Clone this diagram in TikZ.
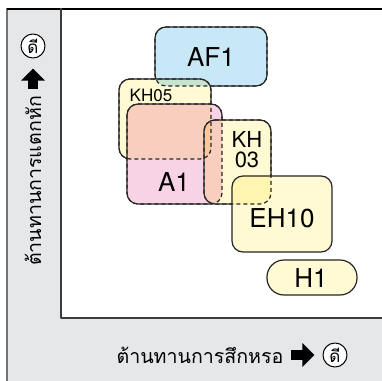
\documentclass[tikz,border=0pt]{standalone}
\usepackage{fontspec}
\setmainfont{TeX Gyre Heros}
\newfontfamily\thaifont[Script=Thai]{Loma}
\usetikzlibrary{arrows.meta}

\definecolor{panelgray}{RGB}{230,231,232}
\definecolor{zoneblue}{RGB}{200,232,248}
\definecolor{zoneyellow}{RGB}{255,250,212}
\definecolor{zonepink}{RGB}{248,211,229}
\definecolor{edgegray}{RGB}{60,60,60}

\tikzset{
  axisline/.style={draw=edgegray, line width=0.7pt},
  zoneline/.style={draw=black!85, line width=0.6pt, rounded corners=5.5pt},
  zonefill/.style={rounded corners=5.5pt},
  good/.style={circle, draw, line width=0.5pt, fill=white, inner sep=0pt,
    minimum size=12pt, font=\thaifont\fontsize{8.5}{9}\selectfont},
  bigarrow/.style={-{Triangle[width=11.5pt,length=6pt]}, line width=5pt},
  zonelabel/.style={font=\fontsize{13}{14}\selectfont, align=center},
  axislabel/.style={font=\thaifont\fontsize{9.8}{12}\selectfont},
}

% contorno de una zona (esquinas x1,y1 -- x2,y2)
\newcommand\zonepath[4]{(#1,#2) -- (#3,#2) -- (#3,#4) -- (#1,#4) -- cycle}
% recorte por fuera de una zona
\newcommand\outsidezone[4]{\clip (-20,-20) -- (-20,400) -- (400,400) -- (400,-20) -- cycle
  [rounded corners=5.5pt] (#1,#2) -- (#3,#2) -- (#3,#4) -- (#1,#4) -- cycle;}

\begin{document}
\begin{tikzpicture}[x=0.5pt, y=-0.5pt, line join=round]
    \useasboundingbox (0,0) rectangle (382,381);
    % Fondo
    \fill[panelgray] (7,8) rectangle (382,381);
    \fill[white] (61,8) rectangle (382,318);
    \draw[axisline, draw=black!55] (7,381) -- (7,8);
    \draw[axisline, draw=black, line width=1pt] (7,8.5) -- (382,8.5);
    \draw[axisline] (61,8) -- (61,318) -- (382,318);
    % Zonas
    \begin{scope}[blend mode=multiply]
      \fill[zonefill, zoneblue] \zonepath{155}{27}{267}{86};
      \fill[zonefill, zoneyellow] \zonepath{119}{79}{211}{159};
      \fill[zonefill, zonepink] \zonepath{127}{104}{222}{204};
      \fill[zonefill, zoneyellow] \zonepath{204}{120}{271}{204};
      \fill[zonefill, zoneyellow] \zonepath{232}{176}{332}{252};
      \fill[rounded corners=8.5pt, zoneyellow] \zonepath{267}{260}{357}{295};
    \end{scope}
    % Bordes ocultos
    \draw[zoneline, dashed, dash pattern=on 2pt off 1.5pt] \zonepath{155}{27}{267}{86};
    \draw[zoneline, dashed, dash pattern=on 2pt off 1.5pt] \zonepath{119}{79}{211}{159};
    \draw[zoneline, dashed, dash pattern=on 2pt off 1.5pt] \zonepath{127}{104}{222}{204};
    \draw[zoneline, dashed, dash pattern=on 2pt off 1.5pt] \zonepath{204}{120}{271}{204};
    % Bordes visibles
    \begin{scope}
      \outsidezone{119}{79}{211}{159}
      \draw[zoneline] \zonepath{155}{27}{267}{86};
    \end{scope}
    \begin{scope}
      \outsidezone{127}{104}{222}{204}
      \outsidezone{204}{120}{271}{204}
      \draw[zoneline] \zonepath{119}{79}{211}{159};
    \end{scope}
    \begin{scope}
      \outsidezone{204}{120}{271}{204}
      \draw[zoneline] \zonepath{127}{104}{222}{204};
    \end{scope}
    \begin{scope}
      \outsidezone{232}{176}{332}{252}
      \draw[zoneline] \zonepath{204}{120}{271}{204};
    \end{scope}
    \draw[zoneline] \zonepath{232}{176}{332}{252};
    \draw[zoneline, rounded corners=8.5pt] \zonepath{267}{260}{357}{295};
    % Nombres
    \node[zonelabel] (af1) at (211,57) {AF1};
    \node[zonelabel, font=\fontsize{8.5}{9}\selectfont] (kh05) at (151,95) {KH05};
    \node[zonelabel] (a1) at (174,182) {A1};
    \node[zonelabel, font=\fontsize{11}{10}\selectfont] (kh03) at (247,150) {KH\\03};
    \node[zonelabel] (eh10) at (282,218) {EH10};
    \node[zonelabel] (h1) at (311,278) {H1};
    % Ejes
    \node[axislabel] (xlabel) at (200,355) {ต้านทานการสึกหรอ};
    \node[good] (xgood) at (335,355) {ดี};
    \coordinate (xarrow) at (291,355);
    \draw[bigarrow, shorten >=4pt] (xarrow) -- (xgood);
    \node[axislabel, rotate=90] (ylabel) at (33,181) {ต้านทานการแตกหัก};
    \node[good] (ygood) at (33,46) {ดี};
    \coordinate (yarrow) at (33,89);
    \draw[bigarrow, shorten >=5pt] (yarrow) -- (ygood);
\end{tikzpicture}
\end{document}
